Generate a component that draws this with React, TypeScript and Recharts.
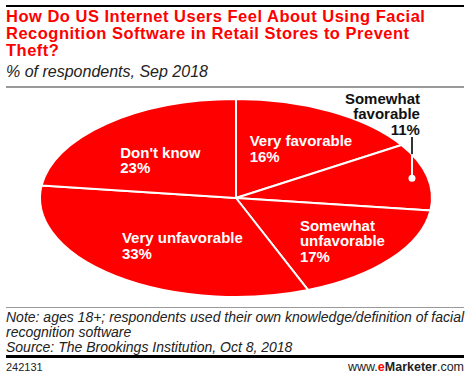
import { Pie, PieChart } from "recharts";

// slice order clockwise from 12 o'clock
const SLICE_NAMES = ["Very favorable", "Somewhat favorable", "Somewhat unfavorable", "Very unfavorable", "Don't know"];
const SLICE_LINES = [["Very favorable"], ["Somewhat", "favorable"], ["Somewhat", "unfavorable"], ["Very unfavorable"], ["Don't know"]];
const SLICE_VALUES = [16, 11, 17, 33, 23];
const OUTSIDE = ["Somewhat favorable"];

const TITLE_LINES = [
  "How Do US Internet Users Feel About Using Facial",
  "Recognition Software in Retail Stores to Prevent",
  "Theft?",
];
const SUBTITLE = "% of respondents, Sep 2018";
const NOTE_LINES = [
  "Note: ages 18+; respondents used their own knowledge/definition of facial",
  "recognition software",
  "Source: The Brookings Institution, Oct 8, 2018",
];
const CHART_ID = "242131";

const RED = "#ff0000";
const W = 470;
const H = 378;
const CX = 236;
const CY = 198;
const RX = 196;
const Y_RATIO = 99 / 196;
const FONT = "'Liberation Sans', Arial, sans-serif";

// nudges of the label block (left edge / first line) relative to the in-slice anchor
const LABEL_NUDGE: Record<string, { dx: number; dy: number }> = {
  "Very favorable": { dx: -43, dy: -5 },
  "Don't know": { dx: -38, dy: -1 },
  "Very unfavorable": { dx: -42, dy: -7 },
  "Somewhat unfavorable": { dx: -29, dy: -9 },
};

const data = SLICE_NAMES.map((name, i) => ({ name, value: SLICE_VALUES[i], lines: SLICE_LINES[i] }));

const RAD = Math.PI / 180;
function ellPoint(cx: number, cy: number, r: number, deg: number, k = 1) {
  return { x: cx + r * k * Math.cos(-deg * RAD), y: cy + r * Y_RATIO * k * Math.sin(-deg * RAD) };
}

function EllipseSector(props: any) {
  const { cx, cy, outerRadius, startAngle, endAngle, fill } = props;
  const p1 = ellPoint(cx, cy, outerRadius, startAngle);
  const p2 = ellPoint(cx, cy, outerRadius, endAngle);
  const sweep = Math.abs(endAngle - startAngle);
  const large = sweep > 180 ? 1 : 0;
  const dirFlag = endAngle < startAngle ? 1 : 0;
  const d = `M${cx},${cy} L${p1.x},${p1.y} A${outerRadius},${outerRadius * Y_RATIO} 0 ${large} ${dirFlag} ${p2.x},${p2.y} Z`;
  return <path d={d} fill={fill} stroke="#fff" strokeWidth={2} strokeLinejoin="round" />;
}

function SliceLabel(props: any) {
  const { cx, cy, outerRadius, midAngle, payload, value } = props;
  const name: string = payload.name;
  const lines: string[] = payload.lines;
  const textStyle = { fontFamily: FONT, fontWeight: 700, fontSize: 15 };
  const all = [...lines, `${value}%`];
  if (OUTSIDE.includes(name)) {
    const dot = ellPoint(cx, cy, outerRadius, midAngle, 0.92);
    const dxEdge = (dot.x - cx) / outerRadius;
    const edgeY = cy - outerRadius * Y_RATIO * Math.sqrt(Math.max(0, 1 - dxEdge * dxEdge));
    const topY = cy - outerRadius * Y_RATIO - 1;
    return (
      <g>
        <line x1={dot.x} y1={topY + 39} x2={dot.x} y2={edgeY} stroke="#333" strokeWidth={2} />
        <line x1={dot.x} y1={edgeY} x2={dot.x} y2={dot.y} stroke="#fff" strokeWidth={2} />
        <circle cx={dot.x} cy={dot.y} r={3.5} fill="#fff" />
        <text textAnchor="end" fill="#111" style={textStyle}>
          {all.map((l, i) => (
            <tspan key={i} x={dot.x + 8} y={topY + i * 15.5} dominantBaseline="central">
              {l}
            </tspan>
          ))}
        </text>
      </g>
    );
  }
  const a = ellPoint(cx, cy, outerRadius, midAngle, 0.6);
  const n = LABEL_NUDGE[name] ?? { dx: -40, dy: 0 };
  return (
    <text textAnchor="start" fill="#fff" style={textStyle}>
      {all.map((l, i) => (
        <tspan key={i} x={a.x + n.dx} y={a.y + n.dy + i * 15.5} dominantBaseline="central">
          {l}
        </tspan>
      ))}
    </text>
  );
}

export default function App() {
  return (
    <div style={{ position: "relative", width: W, height: H, background: "#fff", overflow: "hidden" }}>
      <style>{`body{margin:0}`}</style>
      <div style={{ position: "absolute", left: 6, top: 5, width: 458, height: 2, background: "#000" }} />
      <div
        style={{
          position: "absolute",
          left: 6,
          top: 8,
          color: RED,
          fontFamily: FONT,
          fontWeight: 700,
          fontSize: 16.5,
          lineHeight: "17px",
          letterSpacing: 0.5,
          whiteSpace: "nowrap",
        }}
      >
        {TITLE_LINES.map((l) => (
          <div key={l}>{l}</div>
        ))}
      </div>
      <div
        style={{
          position: "absolute",
          left: 6,
          top: 62,
          fontFamily: FONT,
          fontStyle: "italic",
          fontSize: 16,
          lineHeight: "20px",
          color: "#222",
        }}
      >
        {SUBTITLE}
      </div>
      <div style={{ position: "absolute", left: 6, top: 86, width: 458, height: 2, background: "#999" }} />
      <div style={{ position: "absolute", left: 0, top: 0 }}>
        <PieChart width={W} height={H} margin={{ top: 0, right: 0, bottom: 0, left: 0 }}>
          <Pie
            data={data}
            dataKey="value"
            nameKey="name"
            cx={CX}
            cy={CY}
            innerRadius={0}
            outerRadius={RX}
            startAngle={90}
            endAngle={-270}
            fill={RED}
            stroke="none"
            shape={EllipseSector}
            label={SliceLabel}
            labelLine={false}
            isAnimationActive={false}
          />
        </PieChart>
      </div>
      <div style={{ position: "absolute", left: 6, top: 307, width: 458, height: 1, background: "#999" }} />
      <div
        style={{
          position: "absolute",
          left: 6,
          top: 310,
          fontFamily: FONT,
          fontStyle: "italic",
          fontSize: 14,
          lineHeight: "15px",
          color: "#222",
          whiteSpace: "nowrap",
        }}
      >
        {NOTE_LINES.map((l) => (
          <div key={l}>{l}</div>
        ))}
      </div>
      <div style={{ position: "absolute", left: 6, top: 355, width: 458, height: 3, background: "#000" }} />
      <div style={{ position: "absolute", left: 6, top: 361, fontFamily: FONT, fontSize: 11, color: "#222" }}>
        {CHART_ID}
      </div>
      <div style={{ position: "absolute", right: 6, top: 360, fontFamily: FONT, fontSize: 12.5, color: "#222" }}>
        www.<span style={{ color: RED, fontWeight: 700 }}>e</span>
        <span style={{ fontWeight: 700 }}>Marketer</span>.com
      </div>
    </div>
  );
}
